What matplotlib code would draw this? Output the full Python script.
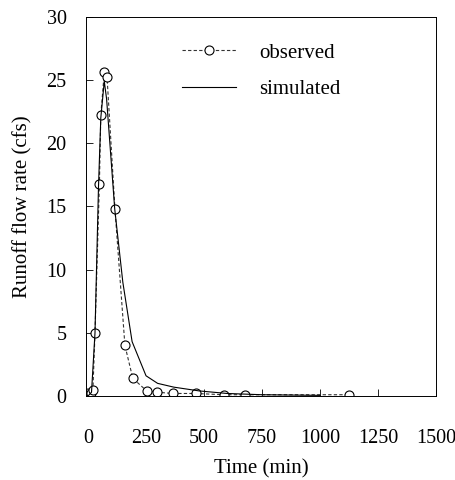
import matplotlib
matplotlib.use("Agg")
import matplotlib.pyplot as plt

# observed runoff (circles, dashed)
t_obs = [0, 13, 21, 30, 49, 55, 70, 82, 116, 159, 193, 253, 299, 365, 464, 585, 675, 1124]
q_obs = [0.2, 0.2, 0.5, 5.0, 16.8, 22.2, 25.6, 25.2, 14.8, 4.0, 1.4, 0.4, 0.3, 0.2, 0.2, 0.1, 0.1, 0.1]

# simulated runoff (solid)
t_sim = [0, 15, 30, 45, 55, 70, 80, 115, 150, 190, 250, 300, 370, 480, 600, 750, 1000]
q_sim = [0.0, 0.3, 5.0, 16.5, 22.0, 24.9, 23.5, 14.8, 9.0, 4.3, 1.6, 1.0, 0.7, 0.4, 0.2, 0.1, 0.05]

plt.rcParams['font.family'] = ['Liberation Serif', 'DejaVu Serif']

fig = plt.figure(figsize=(4.56, 4.8), dpi=100)
ax = fig.add_axes([0.189, 0.175, 0.767, 0.79])

ax.plot(t_obs, q_obs, color='#333333', linestyle=(0, (3, 2)), linewidth=0.8,
        marker='o', markersize=6.5, markerfacecolor='white',
        markeredgecolor='black', markeredgewidth=0.8, label='observed')
ax.plot(t_sim, q_sim, color='black', linewidth=0.8, label='simulated')

ax.set_xlim(-8, 1500)
ax.set_ylim(0, 30)
ax.set_xticks([0, 250, 500, 750, 1000, 1250, 1500])
ax.set_yticks([0, 5, 10, 15, 20, 25, 30])
ax.tick_params(direction='in', labelsize=14.5, length=5, width=0.6)
ax.tick_params(axis='x', pad=24)
ax.tick_params(axis='y', pad=14)
for s in ax.spines.values():
    s.set_linewidth(0.7)

ax.set_xlabel('Time (min)', fontsize=15, labelpad=8)
ax.set_ylabel('Runoff flow rate (cfs)', fontsize=15, labelpad=10)

ax.legend(loc='upper left', bbox_to_anchor=(0.22, 0.98), frameon=False,
          fontsize=15, handlelength=2.6, handletextpad=1.1, labelspacing=0.8)

fig.savefig('out.png', dpi=100)
